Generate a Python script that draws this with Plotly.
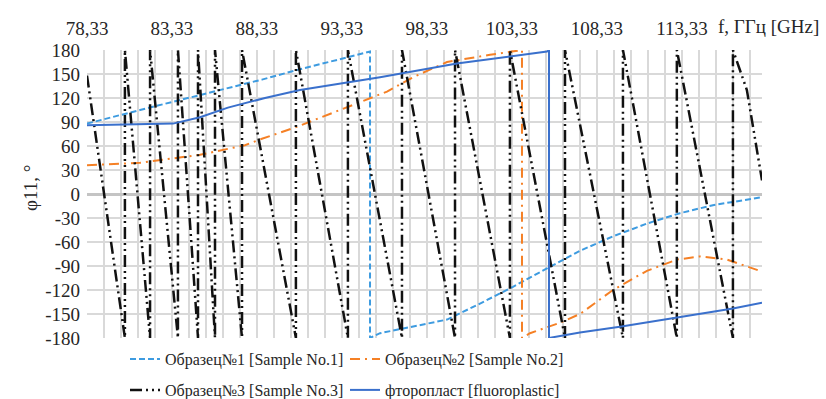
import plotly.graph_objects as go

# ---- data ----
# Sample No.1 (light-blue dashed)
f1 = [78.33, 81.45, 88.62, 90.68, 94.98, 94.98, 95.57, 99.51, 101.45, 103.39, 105.39, 107.33,
      109.27, 111.27, 113.21, 115.15, 118.04]
p1 = [88, 105, 143, 155, 178, -180, -174, -157, -137, -116, -93, -71,
      -53, -37, -24, -14, -4]

# Sample No.2 (orange dash-dot)
f2 = [78.33, 81.45, 84.98, 87.62, 88.62, 90.68, 93.21, 95.98, 97.51, 99.51, 102.04, 103.80,
      103.92, 103.92, 104.39, 106.15, 107.33, 109.27, 111.27, 113.04, 114.39, 115.98, 118.04]
p2 = [36, 39, 49, 61, 69, 84, 105, 128, 146, 165, 174, 179,
      180, -180, -174, -161, -150, -120, -96, -82, -78, -82, -97]

# Sample No.3 (black long-dash-dot-dot), wrapped phase
f3 = [78.33, 80.56, 80.56, 82.04, 82.04, 83.68, 83.68, 84.86, 84.86, 85.86, 85.86, 87.45,
      87.45, 90.62, 90.62, 93.68, 93.68, 96.86, 96.86, 99.98, 99.98, 103.21, 103.21, 106.45,
      106.45, 109.86, 109.86, 113.03, 113.03, 116.33, 116.33, 117.15, 118.04]
p3 = [148, -180, 180, -180, 180, -180, 180, -180, 180, -180, 180, -180,
      180, -180, 180, -180, 180, -180, 180, -180, 180, -180, 180, -180,
      180, -180, 180, -180, 180, -180, 180, 130, 17]

# Fluoroplastic (solid blue)
f4 = [78.33, 81.45, 83.39, 84.98, 86.62, 88.80, 90.86, 95.57, 100.09, 105.39, 105.51,
      105.51, 107.33, 109.68, 112.80, 116.33, 118.04]
p4 = [86, 87, 88, 96, 108, 120, 130, 146, 163, 178, 180,
      -180, -173, -166, -155, -143, -136]

names = ["Образец№1 [Sample No.1]", "Образец№2 [Sample No.2]",
         "Образец№3 [Sample No.3]", "фторопласт [fluoroplastic]"]

x_tick_vals = [78.33, 83.33, 88.33, 93.33, 98.33, 103.33, 108.33, 113.33]
x_tick_text = ["78,33", "83,33", "88,33", "93,33", "98,33", "103,33", "108,33", "113,33"]
y_tick_vals = [180, 150, 120, 90, 60, 30, 0, -30, -60, -90, -120, -150, -180]
y_tick_text = ["180", "150", "120", "90", "60", "30", "0", "-30", "-60", "-90", "-120", "-150", "-180"]

x_title = "f, ГГц [GHz]"
y_title = "φ11, °"

# ---- figure ----
FONT = "Times New Roman, Liberation Serif, serif"
TXT = "#262626"

fig = go.Figure()
fig.add_trace(go.Scatter(x=f1, y=p1, mode="lines", name=names[0], legend="legend",
                         line=dict(color="#3d9be0", width=2, dash="6px,3px")))
fig.add_trace(go.Scatter(x=f2, y=p2, mode="lines", name=names[1], legend="legend2",
                         line=dict(color="#f58025", width=2, dash="10px,5px,2px,5px")))
fig.add_trace(go.Scatter(x=f3, y=p3, mode="lines", name=names[2], legend="legend3",
                         line=dict(color="#111111", width=2.5, dash="12px,4px,2px,4px,2px,4px")))
fig.add_trace(go.Scatter(x=f4, y=p4, mode="lines", name=names[3], legend="legend4",
                         line=dict(color="#3a70cc", width=2)))

L, R, T, B = 87, 64, 50, 61
W, H = 826, 399
pw, ph = W - L - R, H - T - B

def px2x(px):
    return (px - L) / pw

def py2y(py):
    return (H - B - py) / ph

def cx(px):
    return px / W

def cy(py):
    return 1 - py / H

leg_common = dict(bgcolor="rgba(0,0,0,0)", font=dict(family=FONT, size=16, color=TXT),
                  xanchor="left", yanchor="middle", orientation="v",
                  xref="container", yref="container")

fig.update_layout(
    width=W, height=H,
    margin=dict(l=L, r=R, t=T, b=B, autoexpand=False),
    paper_bgcolor="white", plot_bgcolor="white",
    showlegend=True,
    font=dict(family=FONT, size=19, color=TXT),
    legend=dict(x=cx(125), y=cy(359), **leg_common),
    legend2=dict(x=cx(345), y=cy(359), **leg_common),
    legend3=dict(x=cx(125), y=cy(390), **leg_common),
    legend4=dict(x=cx(345), y=cy(390), **leg_common),
    xaxis=dict(
        side="top", range=[78.33, 118.04], tickmode="array",
        tickvals=x_tick_vals, ticktext=x_tick_text,
        showgrid=True, gridcolor="#d9d9d9", gridwidth=2,
        minor=dict(tick0=78.33, dtick=1, showgrid=True, gridcolor="#d9d9d9", gridwidth=2),
        zeroline=False, showline=False, ticks="", ticklabelstandoff=10,
        tickfont=dict(family=FONT, size=19, color=TXT),
    ),
    yaxis=dict(
        range=[-180, 180], tickmode="array", tickvals=y_tick_vals, ticktext=y_tick_text,
        showgrid=True, gridcolor="#d9d9d9", gridwidth=2,
        zeroline=True, zerolinecolor="#c4c4c4", zerolinewidth=2.5,
        showline=False, ticks="", ticklabelstandoff=6,
        tickfont=dict(family=FONT, size=19, color=TXT),
    ),
    annotations=[
        dict(text=x_title, xref="paper", yref="paper", x=px2x(716), y=py2y(27),
             xanchor="left", yanchor="middle", showarrow=False,
             font=dict(family=FONT, size=19, color=TXT)),
        dict(text=y_title, xref="paper", yref="paper", x=px2x(30), y=py2y(188),
             xanchor="center", yanchor="middle", showarrow=False, textangle=-90,
             font=dict(family=FONT, size=19, color=TXT)),
    ],
)

fig.write_html("out.html",
               config={"displayModeBar": False},
               post_script="document.body.style.margin='0';document.body.style.overflow='hidden';")
